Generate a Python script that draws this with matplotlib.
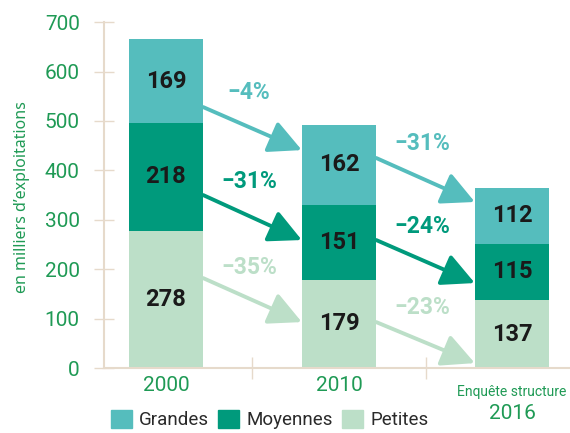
import numpy as np
import matplotlib
matplotlib.use('Agg')
import matplotlib.pyplot as plt
from matplotlib.patches import Patch
from matplotlib.transforms import blended_transform_factory

# data (milliers d'exploitations)
years = ['2000', '2010', '2016']
series = ['Petites', 'Moyennes', 'Grandes']
petites = [278, 179, 137]
moyennes = [218, 151, 115]
grandes = [169, 162, 112]
# evolutions between consecutive years, per series
evol_petites = ['\u221235%', '\u221223%']
evol_moyennes = ['\u221231%', '\u221224%']
evol_grandes = ['\u22124%', '\u221231%']

colors = {'Grandes': '#55bdbd', 'Moyennes': '#009a7c', 'Petites': '#bcdfc8'}
green = '#1f9a55'
beige = '#e6dacb'
reg = ['Roboto', 'DejaVu Sans']

# layout of the arrows (y in data units: start at bar i, end at bar i+1)
arrow_y = {
    'Grandes': [(528, 441), (425, 336)],
    'Moyennes': [(350, 259), (259, 172)],
    'Petites': [(182, 93), (93, 10)],
}
evol_y = {
    'Grandes': [557, 455],
    'Moyennes': [377, 287],
    'Petites': [204, 123],
}

fig = plt.figure(figsize=(5.70, 4.33), dpi=100)
ax = fig.add_axes([0.1825, 0.150, 0.8175, 0.799])

x = np.arange(len(years))
w = 0.43
values = {'Petites': petites, 'Moyennes': moyennes, 'Grandes': grandes}
bottom = np.zeros(len(years))
for name in series:
    v = np.array(values[name])
    ax.bar(x, v, w, bottom=bottom, color=colors[name], linewidth=0)
    for xi, b, vi in zip(x, bottom, v):
        ax.text(xi, b + vi / 2, str(vi), ha='center', va='center',
                fontsize=17, fontweight='bold', color='#1a1a1a', family=reg)
    bottom += v

evols = {'Petites': evol_petites, 'Moyennes': evol_moyennes, 'Grandes': evol_grandes}
for name in series:
    for i, ((y0, y1), lab, ly) in enumerate(zip(arrow_y[name], evols[name], evol_y[name])):
        ax.annotate('', xy=(i + 1 - w / 2, y1), xytext=(i + w / 2, y0),
                    arrowprops=dict(arrowstyle='-|>,head_length=1.0,head_width=0.5',
                                    mutation_scale=20, lw=2.8, color=colors[name],
                                    shrinkA=0, shrinkB=0))
        ax.text(i + 0.48, ly, lab, ha='center', va='center', fontsize=16.5,
                fontweight='bold', color=colors[name], family=reg)

ax.set_xlim(-0.358, 2.335)
ax.set_ylim(0, 700)
ax.set_yticks(range(0, 701, 100))
ax.tick_params(axis='y', direction='inout', length=15, width=1, color=beige,
               labelcolor=green, labelsize=15, pad=10)
for t in ax.get_yticklabels():
    t.set_family(reg)
ax.set_xticks([0.5, 1.5])
ax.set_xticklabels([])
ax.tick_params(axis='x', direction='inout', length=16, width=1, color=beige)
trans = blended_transform_factory(ax.transData, ax.transAxes)
for xi, lab in zip(x[:2], years[:2]):
    ax.text(xi, -0.05, lab, transform=trans, ha='center', va='center',
            fontsize=15, color=green, family=reg)
ax.text(2, -0.07, 'Enquête structure', transform=trans, ha='center', va='center',
        fontsize=10, color=green, family=reg)
ax.text(2, -0.13, years[2], transform=trans, ha='center', va='center',
        fontsize=15, color=green, family=reg)

for s in ['top', 'right']:
    ax.spines[s].set_visible(False)
for s in ['left', 'bottom']:
    ax.spines[s].set_color(beige)
    ax.spines[s].set_linewidth(1.5)

fig.text(0.038, 0.545, 'en milliers d\u2019exploitations', rotation=90, ha='center',
         va='center', fontsize=11.5, color=green, family=['Noto Sans', 'DejaVu Sans'])

handles = [Patch(color=colors[n]) for n in ['Grandes', 'Moyennes', 'Petites']]
fig.legend(handles, ['Grandes', 'Moyennes', 'Petites'], loc='lower left',
           bbox_to_anchor=(0.165, -0.03), ncol=3, frameon=False,
           handlelength=1.1, handleheight=1.1, handletextpad=0.4,
           columnspacing=0.5, prop={'family': 'Roboto', 'size': 13.5},
           labelcolor='#2a2a2a')

fig.savefig('out.png', dpi=100)
